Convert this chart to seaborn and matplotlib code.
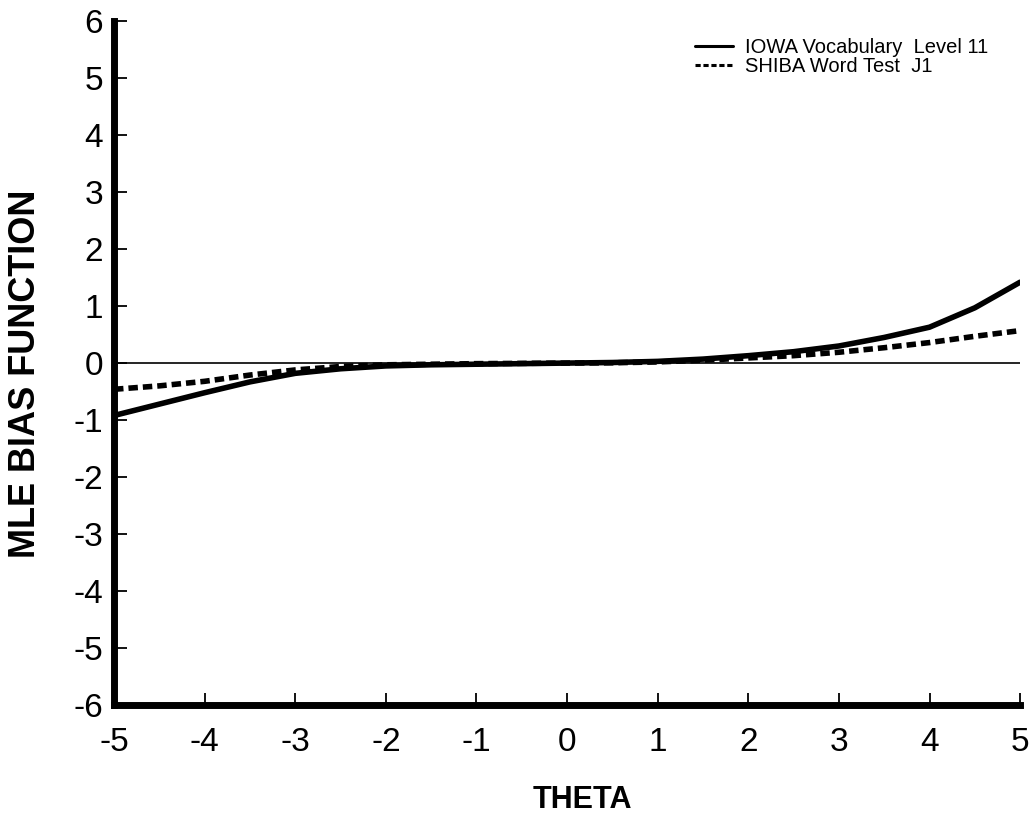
import numpy as np
import pandas as pd
import seaborn as sns
import matplotlib
matplotlib.use("Agg")
import matplotlib.pyplot as plt

theta = [-5, -4.5, -4, -3.5, -3, -2.5, -2, -1.5, -1, -0.5, 0, 0.5, 1, 1.5, 2, 2.5, 3, 3.5, 4, 4.5, 5]
iowa = [-0.92, -0.72, -0.52, -0.33, -0.18, -0.10, -0.05, -0.03, -0.02, -0.01, 0.0, 0.01, 0.03, 0.07, 0.13, 0.20, 0.30, 0.45, 0.63, 0.97, 1.42]
shiba = [-0.46, -0.40, -0.32, -0.21, -0.12, -0.06, -0.03, -0.02, -0.01, -0.005, 0.0, 0.005, 0.02, 0.05, 0.09, 0.13, 0.19, 0.27, 0.36, 0.47, 0.57]
series_names = ["IOWA Vocabulary  Level 11", "SHIBA Word Test  J1"]
xticks = [-5, -4, -3, -2, -1, 0, 1, 2, 3, 4, 5]
yticks = [-6, -5, -4, -3, -2, -1, 0, 1, 2, 3, 4, 5, 6]

sns.set_theme(style="ticks")
plt.rcParams['font.family'] = ['Liberation Sans', 'DejaVu Sans']
plt.rcParams['text.color'] = 'black'
plt.rcParams['axes.labelcolor'] = 'black'

df = pd.DataFrame({
    "theta": theta * 2,
    "bias": iowa + shiba,
    "test": [series_names[0]] * len(theta) + [series_names[1]] * len(theta),
})

fig = plt.figure(figsize=(10.32, 8.15), dpi=100)
ax = fig.add_axes([0.1105, 0.135, 0.878, 0.839])

ax.plot([-5, 5], [0, 0], color="black", lw=1.2, zorder=1)
sns.lineplot(data=df, x="theta", y="bias", style="test", color="black",
             linewidth=4.0, ax=ax,
             dashes={series_names[0]: "", series_names[1]: (1.7, 0.9)},
             legend=True)

ax.set_xlim(-5, 5)
ax.set_ylim(-6, 6)
ax.set_xticks(xticks)
ax.set_yticks(yticks)
ax.set_xticklabels([str(t) for t in xticks])
ax.set_yticklabels([str(t) for t in yticks])
ax.tick_params(axis="both", direction="in", length=9, width=1.3, labelsize=24, colors="black")
ax.tick_params(axis="y", pad=8)
ax.tick_params(axis="x", pad=16)

for s in ["top", "right"]:
    ax.spines[s].set_visible(False)
for s in ["left", "bottom"]:
    ax.spines[s].set_linewidth(5)
    ax.spines[s].set_color("black")
    ax.spines[s].set_capstyle("projecting")

ax.set_xlabel("THETA", fontsize=22, fontweight="bold")
ax.set_ylabel("MLE BIAS FUNCTION", fontsize=26, fontweight="bold")
ax.xaxis.set_label_coords(0.5166, -0.117)
ax.yaxis.set_label_coords(-0.078, 0.484)

leg = ax.legend(loc="upper left", frameon=False, fontsize=14.5, handlelength=1.9,
                handletextpad=0.6, labelspacing=0.0, borderpad=0, borderaxespad=0,
                bbox_to_anchor=(695 / 1032, 1 - 38 / 815), bbox_transform=fig.transFigure,
                title=None)
for line in leg.get_lines():
    line.set_linewidth(2.2)

fig.savefig("out.png", dpi=100, facecolor="white")
